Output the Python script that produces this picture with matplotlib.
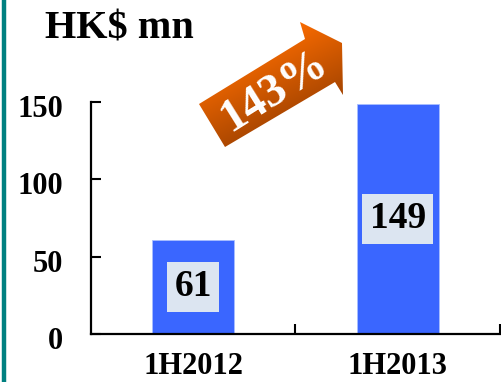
import numpy as np
import matplotlib
matplotlib.use("Agg")
import matplotlib.pyplot as plt
from matplotlib.patches import Polygon
from matplotlib.transforms import ScaledTranslation

categories = ["1H2012", "1H2013"]
values = [61, 149]
yticks = [0, 50, 100, 150]
title = "HK$ mn"
growth_label = "143%"

W, H = 502, 382
fig = plt.figure(figsize=(W / 100, H / 100), dpi=100)
fig.patch.set_facecolor("white")
FONT = "Liberation Serif"

# teal side line
fig.add_artist(plt.Line2D([4 / W, 4 / W], [0, 1], color="#008080", lw=3.2,
                          transform=fig.transFigure))

ax = fig.add_axes([91 / W, (H - 334) / H, (500 - 91) / W, (334 - 102) / H])
x = np.arange(len(categories))
bars = ax.bar(x, values, width=0.40, color="#3A66FF", edgecolor="#A9BFFF", linewidth=0.6, zorder=2)
ax.set_xlim(-0.5, len(categories) - 0.5)
ax.set_ylim(0, 150)

for sp in ["top", "right"]:
    ax.spines[sp].set_visible(False)
for sp in ["left", "bottom"]:
    ax.spines[sp].set_linewidth(1.6)
    ax.spines[sp].set_color("black")

ax.set_yticks(yticks)
ax.set_yticklabels([str(v) for v in yticks], fontfamily=FONT, fontweight="bold", fontsize=22)
ax.tick_params(axis="y", direction="in", length=7, width=1.5, pad=20)
off = ScaledTranslation(0, -4 / 100, fig.dpi_scale_trans)
for lab in ax.get_yticklabels():
    lab.set_transform(lab.get_transform() + off)

# category boundary ticks on x axis
ax.set_xticks([0.5, 1.5], minor=False)
ax.set_xticklabels([])
ax.tick_params(axis="x", direction="in", length=7, width=1.5)
ax.set_xticks(x, minor=True)
ax.set_xticklabels(categories, minor=True, fontfamily=FONT, fontweight="bold", fontsize=22)
ax.tick_params(axis="x", which="minor", length=0, pad=13)

for xi, v in zip(x, values):
    ax.text(xi, v / 2, str(v), ha="center", va="center", fontfamily=FONT,
            fontweight="bold", fontsize=27, color="black", zorder=3,
            bbox=dict(boxstyle="square,pad=0.2", facecolor="#DCE5F1", edgecolor="none"))

fig.text(119 / W, 1 - 29 / H, title, ha="center", va="center", fontfamily=FONT,
         fontweight="bold", fontsize=29)

# growth arrow overlay
ov = fig.add_axes([0, 0, 1, 1], zorder=5)
ov.set_xlim(0, W)
ov.set_ylim(H, 0)
ov.axis("off")
ov.patch.set_alpha(0)
pts = [(199, 104), (305, 39), (300, 22), (342, 43), (343, 95), (335, 82), (225, 147)]
poly = Polygon(pts, closed=True, facecolor="none", edgecolor="none")
ov.add_patch(poly)
xs = np.linspace(195, 350, 200)
ys = np.linspace(15, 150, 150)
XX, YY = np.meshgrid(xs, ys)
t = ((XX - 199) * 0.45 + (YY - 60) * 0.89)
t = (t - t.min()) / (t.max() - t.min())
c0 = np.array([1.0, 0.43, 0.0])
c1 = np.array([0.52, 0.21, 0.0])
tt = np.clip((t - 0.25) / 0.65, 0, 1)[..., None]
img = c0 * (1 - tt) + c1 * tt
im = ov.imshow(img, extent=(195, 350, 150, 15), origin="upper", interpolation="bilinear", aspect="auto")
im.set_clip_path(poly)
ov.set_xlim(0, W)
ov.set_ylim(H, 0)
ov.text(274, 91, growth_label, rotation=32, rotation_mode="anchor", ha="center", va="center",
        fontfamily=FONT, fontweight="bold", fontsize=34, color="white")

fig.savefig("out.png", dpi=100)
